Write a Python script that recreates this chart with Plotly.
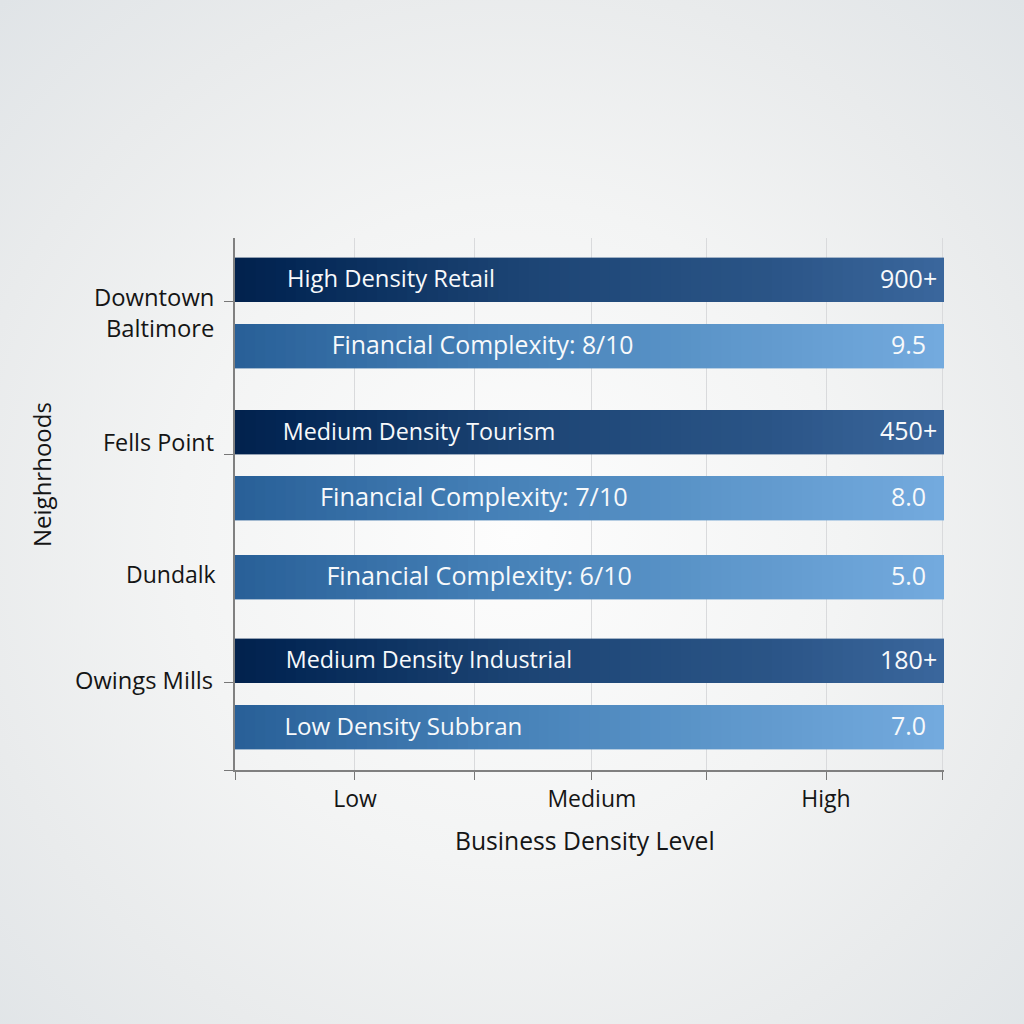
import base64

import plotly.graph_objects as go

# one entry per bar, top to bottom
bar_labels = [
    "High Density Retail",
    "Financial Complexity: 8/10",
    "Medium Density Tourism",
    "Financial Complexity: 7/10",
    "Financial Complexity: 6/10",
    "Medium Density Industrial",
    "Low Density Subbran",
]
value_labels = ["900+", "9.5", "450+", "8.0", "5.0", "180+", "7.0"]
bar_kinds = ["dark", "light", "dark", "light", "light", "dark", "light"]
bar_extent = [6.01, 6.01, 6.01, 6.01, 6.01, 6.01, 6.01]

neighborhoods = ["Downtown<br>Baltimore", "Fells Point", "Dundalk", "Owings Mills"]
density_ticks = ["", "Low", "", "Medium", "", "High", ""]

# layout helpers, y axis runs in pixels up from the x axis
ROW_Y = [490.5, 424, 338, 272, 193, 109.5, 43]
LABEL_X = [0.44, 0.82, 0.405, 0.72, 0.775, 0.43, 0.42]
LABEL_SIZE = [23.8, 24.8, 23.3, 25.3, 25.1, 23.3, 24.1]
VALUE_X = [5.965, 5.875, 5.965, 5.875, 5.875, 5.965, 5.875]
NAME_Y = [458, 328, 196, 90]
NAME_RIGHT = [216, 216, 218, 215]
NAME_SIZE = [23.8, 23.4, 23, 23.7]
TICK_Y = [0, 88, 316, 469]
TICK_X = [0, 1.017, 2.034, 3.025, 4.0, 5.01, 6]
STEPS = 70
FONT = "Open Sans"
INK = "#151515"
ON_BAR = "#f7f9fb"

STOPS = {
    "dark": [(0, (2, 34, 78)), (0.08, (4, 40, 86)), (0.4, (28, 68, 116)), (0.75, (42, 84, 134)), (1, (58, 102, 156))],
    "light": [(0, (41, 96, 152)), (0.35, (68, 127, 182)), (0.7, (94, 151, 203)), (1, (115, 170, 222))],
}


def shade(kind, t):
    stops = STOPS[kind]
    for (t0, c0), (t1, c1) in zip(stops, stops[1:]):
        if t <= t1:
            k = (t - t0) / (t1 - t0)
            return "rgb(%d,%d,%d)" % tuple(round(a + (b - a) * k) for a, b in zip(c0, c1))
    return "rgb(%d,%d,%d)" % stops[-1][1]


background = """<svg xmlns="http://www.w3.org/2000/svg" width="1024" height="1024">
<defs><radialGradient id="g" cx="50%" cy="52%" r="72%">
<stop offset="0%" stop-color="#fdfdfd"/><stop offset="45%" stop-color="#f3f4f4"/>
<stop offset="75%" stop-color="#e9ebec"/><stop offset="100%" stop-color="#e0e4e7"/>
</radialGradient></defs><rect width="1024" height="1024" fill="url(#g)"/></svg>"""
background_uri = "data:image/svg+xml;base64," + base64.b64encode(background.encode()).decode()

fig = go.Figure()

# plotly bars have no gradient fill, so each bar is a stack of thin slices
for i in range(STEPS):
    colors = [shade(k, i / (STEPS - 1)) for k in bar_kinds]
    fig.add_trace(
        go.Bar(
            x=[v / STEPS for v in bar_extent],
            y=ROW_Y,
            width=44,
            orientation="h",
            marker=dict(color=colors, line=dict(width=0.4, color=colors)),
            showlegend=False,
            hoverinfo="skip",
        )
    )

fig.add_trace(
    go.Scatter(
        x=LABEL_X,
        y=[y - 2 for y in ROW_Y],
        mode="text",
        text=bar_labels,
        textposition="middle right",
        textfont=dict(family=FONT, size=LABEL_SIZE, color=ON_BAR),
        showlegend=False,
    )
)

annotations = []
for x, y, value in zip(VALUE_X, ROW_Y, value_labels):
    annotations.append(
        dict(x=x, y=y, yshift=2, text=value, xanchor="right", showarrow=False, font=dict(family=FONT, size=25, color=ON_BAR))
    )
for right, y, name, size in zip(NAME_RIGHT, NAME_Y, neighborhoods, NAME_SIZE):
    annotations.append(
        dict(
            x=(right - 235) / 709,
            xref="paper",
            y=y,
            text=name,
            xanchor="right",
            align="right",
            showarrow=False,
            font=dict(family=FONT, size=size, color=INK),
        )
    )
# axis titles sit off centre in the reference, so they are placed by hand
annotations.append(
    dict(
        x=(585 - 235) / 709,
        xref="paper",
        xanchor="center",
        y=(770 - 840) / 532,
        yref="paper",
        yanchor="middle",
        text="Business Density Level",
        showarrow=False,
        font=dict(family=FONT, size=24.7, color=INK),
    )
)
annotations.append(
    dict(
        x=(41 - 235) / 709,
        xref="paper",
        xanchor="center",
        y=(770 - 475) / 532,
        yref="paper",
        yanchor="middle",
        text="Neighrhoods",
        textangle=-90,
        showarrow=False,
        font=dict(family=FONT, size=24, color=INK),
    )
)

fig.update_layout(
    width=1024,
    height=1024,
    autosize=False,
    margin=dict(l=235, r=80, t=238, b=254),
    barmode="stack",
    paper_bgcolor="#f0f1f2",
    plot_bgcolor="rgba(0,0,0,0)",
    font=dict(family=FONT, size=23, color=INK),
    annotations=annotations,
    images=[
        dict(
            source=background_uri,
            xref="paper",
            yref="paper",
            x=-235 / 709,
            y=1 + 238 / 532,
            sizex=1024 / 709,
            sizey=1024 / 532,
            sizing="stretch",
            xanchor="left",
            yanchor="top",
            layer="below",
        )
    ],
    xaxis=dict(
        range=[0, 6.01],
        tickvals=TICK_X,
        ticktext=density_ticks,
        ticks="outside",
        ticklen=8,
        tickcolor="#777777",
        showline=True,
        linecolor="#808080",
        linewidth=1.5,
        showgrid=True,
        gridcolor="#d9dadc",
        gridwidth=1.3,
        zeroline=False,
    ),
    yaxis=dict(
        range=[0, 532],
        tickvals=TICK_Y,
        ticktext=["", "", "", ""],
        ticks="outside",
        ticklen=9,
        tickcolor="#777777",
        showline=True,
        linecolor="#808080",
        linewidth=1.5,
        showgrid=False,
        zeroline=False,
    ),
)

fig.write_html("out.html", config=dict(displayModeBar=False), post_script="document.body.style.margin='0';")
